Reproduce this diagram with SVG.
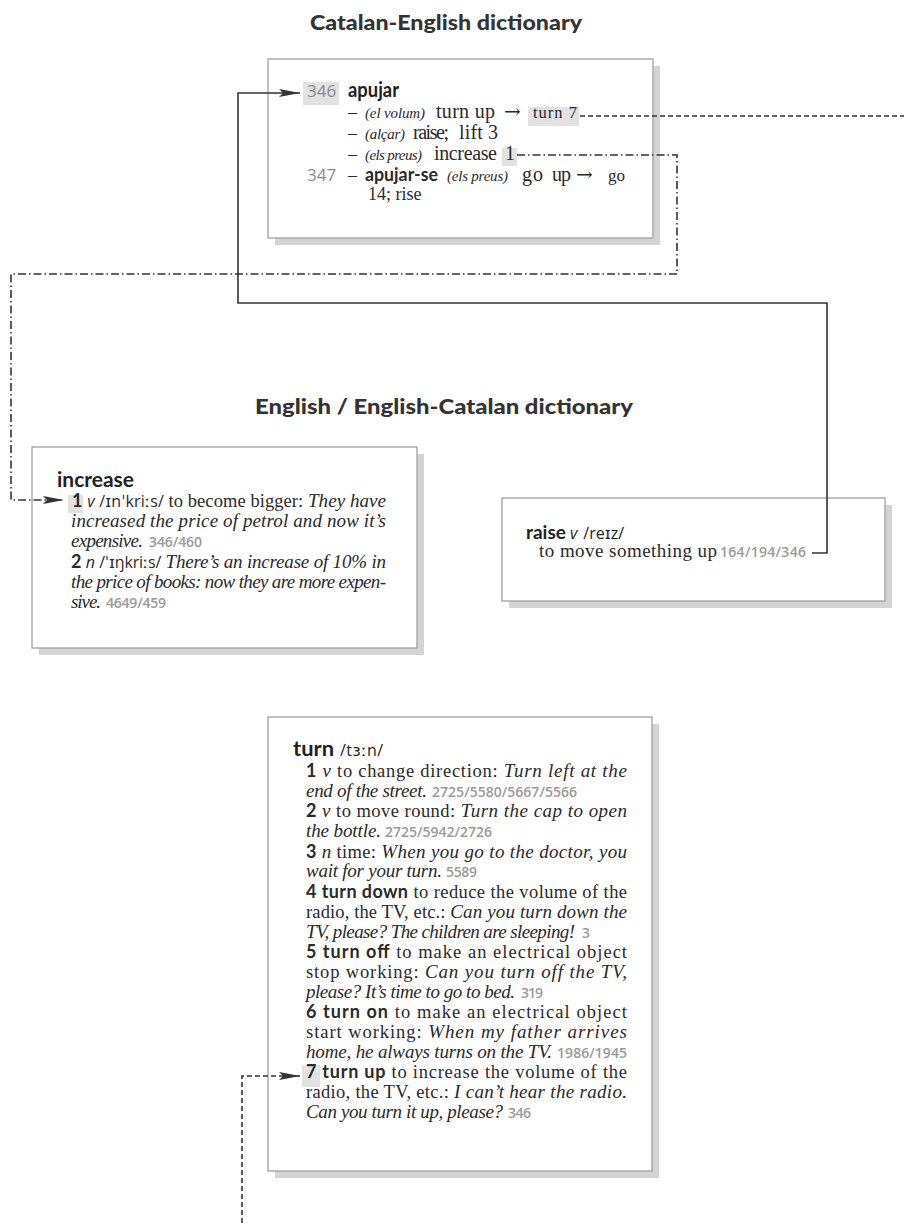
<svg xmlns="http://www.w3.org/2000/svg" width="904" height="1223" viewBox="0 0 904 1223">
<style>
.title{font-family:Lato,"Open Sans",sans-serif;font-weight:900;font-size:21px;fill:#333}
.hw{font-family:Lato,"Open Sans",sans-serif;font-weight:700;fill:#222}
.s{font-family:"Liberation Serif",serif;fill:#2a2a2a}
.i{font-family:"Liberation Serif",serif;font-style:italic;font-size:19px}
.b{font-family:Lato,"Open Sans",sans-serif;font-weight:700;font-style:normal;font-size:18px}
.p{font-family:"Open Sans","DejaVu Sans",sans-serif;font-style:normal;font-size:16px}
.pi{font-family:"Open Sans","DejaVu Sans",sans-serif;font-style:italic;font-size:16px}
.g{font-family:"Open Sans","DejaVu Sans",sans-serif;font-style:normal;font-weight:600;fill:#9a9a9a;font-size:14px}
.ar{font-family:"DejaVu Serif",serif}
.box{fill:#fff;stroke:#a0a0a0;stroke-width:1.3}
.sh{fill:#d4d4d4}
.hl{fill:#e2e2e2}
.c{fill:none;stroke:#333;stroke-width:1.6}
.dd{stroke-dasharray:8 3 1.5 3}
.da{stroke-dasharray:5 3}
</style>
<defs>
<marker id="ah" viewBox="0 0 21 8" refX="21" refY="4" markerWidth="21" markerHeight="8" orient="auto" markerUnits="userSpaceOnUse">
<path d="M0,0 L21,4 L0,8 L4,4 Z" fill="#333"/>
</marker>
</defs>

<text class="title" x="310" y="30" textLength="272" lengthAdjust="spacingAndGlyphs">Catalan-English dictionary</text>
<text class="title" x="255" y="414" textLength="378" lengthAdjust="spacingAndGlyphs">English / English-Catalan dictionary</text>

<g id="apujar">
<rect class="sh" x="275" y="66" width="385" height="179"/>
<rect class="box" x="268" y="59" width="385" height="179"/>
<rect class="hl" x="303" y="82" width="36" height="23"/>
<text class="g" x="307" y="97" style="font-size:17px;font-weight:400;fill:#8a8a8a">346</text>
<text class="hw" x="348" y="97" font-size="21" textLength="51" lengthAdjust="spacingAndGlyphs">apujar</text>
<g class="s">
<text x="348" y="118" font-size="18">–</text>
<text class="i" x="365" y="118" style="font-size:15px" textLength="60">(el volum)</text>
<text x="436" y="118" font-size="20" textLength="59">turn up</text>
<text class="ar" x="504" y="118" font-size="20">→</text>
<rect class="hl" x="528" y="107" width="51" height="19"/>
<text x="533" y="118" font-size="16.5" textLength="44">turn 7</text>
<text x="348" y="139" font-size="18">–</text>
<text class="i" x="365" y="139" style="font-size:15px" textLength="40">(alçar)</text>
<text x="413" y="139" font-size="20" textLength="36">raise;</text>
<text x="459" y="139" font-size="20" textLength="39">lift 3</text>
<text x="348" y="160" font-size="18">–</text>
<text class="i" x="365" y="160" style="font-size:15px" textLength="57">(els preus)</text>
<text x="434" y="160" font-size="20" textLength="63">increase</text>
<rect class="hl" x="502" y="148" width="15" height="18"/>
<text x="505" y="160" font-size="20">1</text>
<text class="g" x="307" y="181" style="font-size:17px;font-weight:400;fill:#8a8a8a">347</text>
<text x="348" y="181" font-size="18">–</text>
<text class="b" x="365" y="181" style="font-size:18px" textLength="73" lengthAdjust="spacingAndGlyphs">apujar-se</text>
<text class="i" x="447" y="181" style="font-size:15px" textLength="61">(els preus)</text>
<text x="522" y="181" font-size="20" textLength="21">go</text>
<text x="552" y="181" font-size="20" textLength="19">up</text>
<text class="ar" x="576" y="181" font-size="20">→</text>
<text x="608" y="181" font-size="17">go</text>
<text x="368" y="200" font-size="18">14; rise</text>
</g>
</g>

<g id="increase">
<rect class="sh" x="39" y="454" width="385" height="201"/>
<rect class="box" x="32" y="447" width="385" height="201"/>
<text class="hw" x="57" y="487" font-size="21" textLength="77" lengthAdjust="spacingAndGlyphs">increase</text>
<rect class="hl" x="68" y="495" width="15" height="18"/>
<g class="s" font-size="18.5">
<text x="72" y="507" textLength="314"><tspan class="b">1</tspan> <tspan class="pi">v</tspan> <tspan class="p">/ɪnˈkriːs/</tspan> to become bigger: <tspan class="i">They have</tspan></text>
<text class="i" x="71" y="527" textLength="315">increased the price of petrol and now it’s</text>
<text class="i" x="71" y="547" textLength="72">expensive.</text>
<text class="g" x="149" y="547" textLength="53">346/460</text>
<text x="71" y="568" textLength="315"><tspan class="b">2</tspan> <tspan class="pi">n</tspan> <tspan class="p">/ˈɪŋkriːs/</tspan> <tspan class="i">There’s an increase of 10% in</tspan></text>
<text class="i" x="71" y="588" textLength="315">the price of books: now they are more expen-</text>
<text class="i" x="71" y="608" textLength="30">sive.</text>
<text class="g" x="106" y="608" textLength="60">4649/459</text>
</g>
</g>

<g id="raise">
<rect class="sh" x="509" y="505" width="383" height="103"/>
<rect class="box" x="502" y="498" width="383" height="103"/>
<text x="526" y="539" fill="#222"><tspan class="hw" font-size="19">raise</tspan> <tspan class="pi">v</tspan> <tspan class="p" dx="2">/reɪz/</tspan></text>
<text class="s" x="539" y="557" font-size="19" textLength="178">to move something up</text>
<text class="g" x="720" y="557" textLength="86">164/194/346</text>
</g>

<g id="turn">
<rect class="sh" x="275" y="724" width="384" height="454"/>
<rect class="box" x="268" y="717" width="384" height="454"/>
<text class="hw" x="293" y="756" font-size="21" textLength="41" lengthAdjust="spacingAndGlyphs">turn</text>
<text class="p" x="340" y="756" fill="#222" textLength="43">/tɜːn/</text>
<rect class="hl" x="302" y="1065" width="18" height="22"/>
<g class="s" font-size="18.5">
<text x="306" y="777" textLength="321"><tspan class="b">1</tspan> <tspan class="i">v</tspan> to change direction: <tspan class="i">Turn left at the</tspan></text>
<text class="i" x="306" y="797" textLength="121">end of the street.</text>
<text class="g" x="432" y="797" textLength="145">2725/5580/5667/5566</text>
<text x="306" y="817" textLength="321"><tspan class="b">2</tspan> <tspan class="i">v</tspan> to move round: <tspan class="i">Turn the cap to open</tspan></text>
<text class="i" x="306" y="837" textLength="75">the bottle.</text>
<text class="g" x="385" y="837" textLength="107">2725/5942/2726</text>
<text x="306" y="858" textLength="321"><tspan class="b">3</tspan> <tspan class="i">n</tspan> time: <tspan class="i">When you go to the doctor, you</tspan></text>
<text class="i" x="306" y="877" textLength="136">wait for your turn.</text>
<text class="g" x="446" y="877" textLength="31">5589</text>
<text x="306" y="898" textLength="321"><tspan class="b">4 turn down</tspan> to reduce the volume of the</text>
<text x="306" y="918" textLength="321">radio, the TV, etc.: <tspan class="i">Can you turn down the</tspan></text>
<text class="i" x="306" y="938" textLength="269">TV, please? The children are sleeping!</text>
<text class="g" x="582" y="938">3</text>
<text x="306" y="958" textLength="321"><tspan class="b">5 turn off</tspan> to make an electrical object</text>
<text x="306" y="978" textLength="321">stop working: <tspan class="i">Can you turn off the TV,</tspan></text>
<text class="i" x="306" y="998" textLength="209">please? It’s time to go to bed.</text>
<text class="g" x="521" y="998" textLength="22">319</text>
<text x="306" y="1018" textLength="321"><tspan class="b">6 turn on</tspan> to make an electrical object</text>
<text x="306" y="1038" textLength="321">start working: <tspan class="i">When my father arrives</tspan></text>
<text class="i" x="306" y="1058" textLength="246">home, he always turns on the TV.</text>
<text class="g" x="557" y="1058" textLength="70">1986/1945</text>
<text x="306" y="1078" textLength="321"><tspan class="b">7 turn up</tspan> to increase the volume of the</text>
<text x="306" y="1098" textLength="321">radio, the TV, etc.: <tspan class="i">I can’t hear the radio.</tspan></text>
<text class="i" x="306" y="1118" textLength="197">Can you turn it up, please?</text>
<text class="g" x="508" y="1118" textLength="23">346</text>
</g>
</g>

<g id="connectors">
<path class="c" d="M812,553 H827 V303 H238 V93 H300" marker-end="url(#ah)"/>
<path class="c dd" d="M517,155 H677 V274 H11 V500 H64" marker-end="url(#ah)"/>
<path class="c da" d="M580,116 H904"/>
<path class="c da" d="M242,1223 V1076 H300" marker-end="url(#ah)"/>
</g>
</svg>
